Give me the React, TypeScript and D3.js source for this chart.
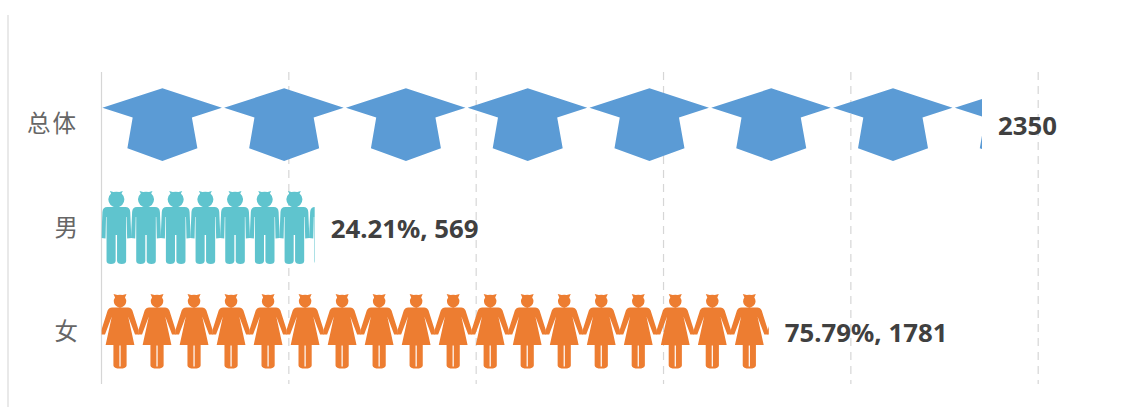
import React from "react";
import * as d3 from "d3";

const categories = ["总体", "男", "女"];
const counts = [2350, 569, 1781];
const labels = ["2350", "24.21%, 569", "75.79%, 1781"];
const iconUnits = [325, 79.2, 98.8];
const colors = ["#5B9BD5", "#5FC4CE", "#ED7D31"];
const xTicks = [0, 500, 1000, 1500, 2000, 2500];

const CAP = "M-60,-16.3 L0,-35.7 L59.5,-16.3 L29.5,-6.5 L35,24.3 L0,37 L-35,24.3 L-29.7,-6.5 Z";

const MALE =
  "M-6.5,-37 L-3,-36 Q0,-36.6 3,-36 L6.5,-37 L5.2,-34.6 A8,8 0 1 1 -5.2,-34.6 Z " +
  "M-9,-21 L9,-21 Q13.6,-21 13.9,-16 L15,10 L10.8,10.4 L10.3,-11 L9.8,-11 L9.8,33 Q9.8,36 5.4,36 Q1,36 0.7,33 L0.7,7 L-0.7,7 L-0.7,33 Q-1,36 -5.4,36 Q-9.8,36 -9.8,33 L-9.8,-11 L-10.3,-11 L-10.8,10.4 L-15,10 L-13.9,-16 Q-13.6,-21 -9,-21 Z";

const FEMALE =
  "M-6.5,-38 L-2.6,-37 Q0,-37.6 2.6,-37 L6.5,-38 L5,-34.4 A6.2,6.2 0 1 1 -5,-34.4 Z " +
  "M-8,-24.5 L8,-24.5 Q11,-24.5 12.4,-21.5 L18.6,-2 L18.8,2.6 L15,2.6 L8.2,-15.6 L14.4,13 L6.6,13 L6.6,33.5 Q6.4,36.6 0,36.6 Q-6.4,36.6 -6.6,33.5 L-6.6,13 L-14.4,13 L-8.2,-15.6 L-15,2.6 L-18.8,2.6 L-18.6,-2 L-12.4,-21.5 Q-11,-24.5 -8,-24.5 Z " +
  "M-0.6,13.5 L-0.6,34.6 L0.6,34.6 L0.6,13.5 Z";

const icons = [CAP, MALE, FEMALE];

const WIDTH = 1121;
const HEIGHT = 407;

export default function App() {
  const x = d3.scaleLinear().domain([0, 2500]).range([101.5, 1038.2]);
  const y = d3.scaleBand<string>().domain(categories).range([72, 384]);

  return (
    <svg
      width={WIDTH}
      height={HEIGHT}
      style={{ position: "absolute", left: 0, top: 0, background: "#fff" }}
    >
      <line x1={8} x2={8} y1={15} y2={HEIGHT} stroke="#e4e4e4" strokeWidth={1.6} />
      {xTicks.map((t) => (
        <line
          key={t}
          x1={x(t)}
          x2={x(t)}
          y1={72}
          y2={384}
          stroke="#d6d6d6"
          strokeWidth={1.2}
          strokeDasharray={t === 0 ? undefined : "8 6"}
        />
      ))}
      <defs>
        {categories.map((c, i) => (
          <clipPath id={`clip-${i}`} key={c}>
            <rect x={x(0)} y={y(c)} width={x(counts[i]) - x(0)} height={y.bandwidth()} />
          </clipPath>
        ))}
      </defs>
      {categories.map((c, i) => {
        const cy = (y(c) as number) + y.bandwidth() / 2;
        const w = x(iconUnits[i]) - x(0);
        const n = Math.ceil(counts[i] / iconUnits[i]);
        return (
          <g key={c}>
            <g clipPath={`url(#clip-${i})`}>
              {d3.range(n).map((k) => (
                <path
                  key={k}
                  d={icons[i]}
                  fill={colors[i]}
                  transform={`translate(${x(k * iconUnits[i]) + w / 2},${cy})`}
                />
              ))}
            </g>
            <text
              x={x(counts[i]) + 16}
              y={cy + (i === 0 ? 2 : 1)}
              dy="0.36em"
              fontFamily="'Noto Sans', sans-serif"
              fontWeight={700}
              fontSize={25.8}
              fill="#404040"
            >
              {labels[i]}
            </text>
            <text
              x={78}
              y={cy}
              dy="0.36em"
              textAnchor="end"
              fontFamily="'Noto Sans CJK SC', sans-serif"
              fontWeight={400}
              fontSize={23.5}
              letterSpacing={i === 0 ? 2 : 0}
              fill="#666666"
            >
              {c}
            </text>
          </g>
        );
      })}
    </svg>
  );
}
